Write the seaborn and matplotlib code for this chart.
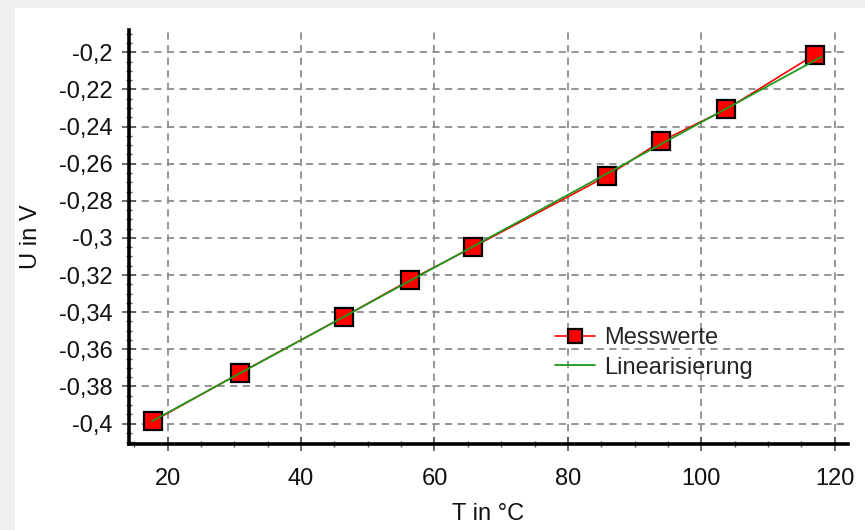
import matplotlib
matplotlib.use("Agg")
import matplotlib.pyplot as plt
from matplotlib.ticker import MultipleLocator, FuncFormatter
from matplotlib.patches import Rectangle
import seaborn as sns
import pandas as pd

# ---- data ----
temps = [17.8, 30.8, 46.4, 56.4, 65.8, 85.8, 94.0, 103.7, 117.0]
volts = [-0.3988, -0.3728, -0.3425, -0.3225, -0.3049, -0.2668, -0.2479, -0.2308, -0.2013]
fit_temps = [17.6, 118.0]
fit_volts = [-0.3988, -0.2025]
series_labels = ["Messwerte", "Linearisierung"]
x_label = "T in °C"
y_label = "U in V"

sns.set_theme(style="white")
plt.rcParams["font.family"] = ["Liberation Sans", "DejaVu Sans"]

W, H = 865, 530
fig = plt.figure(figsize=(W / 100, H / 100), dpi=100)
fig.patch.set_facecolor("#efefef")
fig.patches.append(Rectangle((15 / W, 0), 1, (H - 8) / H, transform=fig.transFigure,
                             facecolor="white", edgecolor="none", zorder=-5))

ax = fig.add_axes([129 / W, (H - 444) / H, (848 - 129) / W, (444 - 30) / H])
ax.set_facecolor("white")

df = pd.DataFrame({"T": temps, "U": volts})
fit = pd.DataFrame({"T": fit_temps, "U": fit_volts})

sns.lineplot(data=df, x="T", y="U", ax=ax, color="#ff0000", lw=1.2, marker="s",
             markersize=13.5, markerfacecolor="#ff0000", markeredgecolor="black",
             markeredgewidth=1.6, label=series_labels[0], zorder=3, sort=False)
sns.lineplot(data=fit, x="T", y="U", ax=ax, color="#1f9a1f", lw=1.3,
             label=series_labels[1], zorder=4, sort=False)

ax.set_xlim(14.2, 122)
ax.set_ylim(-0.411, -0.188)

ax.xaxis.set_major_locator(MultipleLocator(20))
ax.xaxis.set_minor_locator(MultipleLocator(5))
ax.yaxis.set_major_locator(MultipleLocator(0.02))
ax.yaxis.set_minor_locator(MultipleLocator(0.005))

fmt = FuncFormatter(lambda v, p: f"{round(v, 4):g}".replace(".", ","))
ax.yaxis.set_major_formatter(fmt)
ax.xaxis.set_major_formatter(FuncFormatter(lambda v, p: f"{v:g}"))

ax.grid(True, which="major", color="#8c8c8c", linestyle=(0, (4, 3)), lw=1.3)
ax.set_axisbelow(True)

for s in ["top", "right"]:
    ax.spines[s].set_visible(False)
for s in ["left", "bottom"]:
    ax.spines[s].set_color("black")
    ax.spines[s].set_linewidth(2.6)

ax.tick_params(which="major", direction="inout", length=10, width=1.2, color="#555555",
               labelsize=17, labelcolor="#111111", left=True, bottom=True)
ax.tick_params(which="minor", direction="inout", length=5, width=1.0, color="#555555",
               left=True, bottom=True)
ax.tick_params(axis="x", which="major", pad=12)
ax.tick_params(axis="y", which="major", pad=7)

ax.set_xlabel(x_label, fontsize=17, color="#111111", labelpad=10)
ax.set_ylabel(y_label, fontsize=17, color="#111111", labelpad=12)

leg = ax.legend(loc="center left", bbox_to_anchor=(555 / W, 1 - 353 / H),
                bbox_transform=fig.transFigure, frameon=False, fontsize=17,
                handlelength=1.7, handletextpad=0.4, labelspacing=0.3,
                borderpad=0, borderaxespad=0, markerscale=0.75)

fig.savefig("out.png", dpi=100, facecolor=fig.get_facecolor())
